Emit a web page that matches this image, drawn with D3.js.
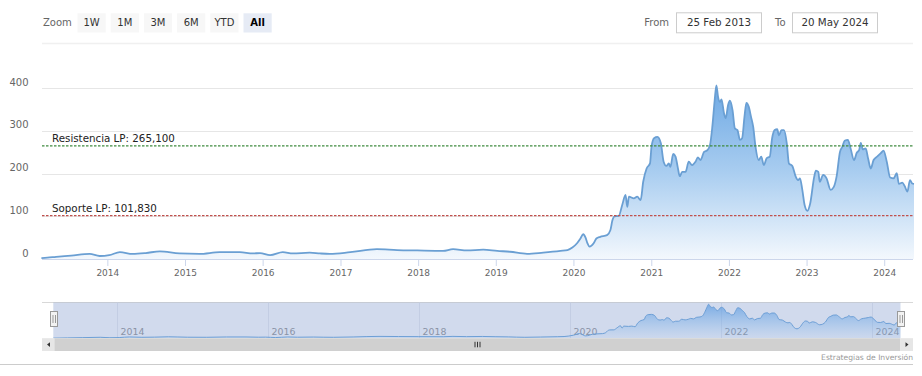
<!DOCTYPE html>
<html>
<head>
<meta charset="utf-8">
<script src="https://cdn.jsdelivr.net/npm/d3@7/dist/d3.min.js"></script>
<style>
  html, body { margin: 0; padding: 0; background: #fff; }
  svg { display: block; font-family: "DejaVu Sans", Verdana, sans-serif; }
</style>
</head>
<body>
<script>
// ---------- DATA ----------
const dates = [
  "2013-02-25","2013-03-25","2013-05-05","2013-07-15","2013-10-10","2013-11-26",
  "2014-01-10","2014-03-01","2014-04-30","2014-07-01","2014-09-05","2014-12-06",
  "2015-03-10","2015-06-13","2015-09-16","2015-11-16","2015-12-20",
  "2016-02-05","2016-04-05","2016-05-22","2016-08-09","2016-09-27","2016-11-12",
  "2017-02-16","2017-06-21","2017-09-24","2017-12-28",
  "2018-04-28","2018-06-14","2018-08-19","2018-11-03",
  "2019-01-08","2019-03-09","2019-05-28","2019-08-12","2019-11-01","2019-12-04","2019-12-27",
  "2020-01-18","2020-02-03","2020-02-16","2020-02-27","2020-03-06","2020-03-17","2020-04-05",
  "2020-04-18","2020-05-06","2020-06-07","2020-06-23","2020-07-02","2020-07-12","2020-08-01",
  "2020-08-17","2020-09-02","2020-09-10","2020-09-18","2020-10-11","2020-10-27","2020-11-12",
  "2020-11-24","2020-12-10","2020-12-26",
  "2021-01-02","2021-01-14","2021-01-30","2021-02-15","2021-02-28","2021-03-13","2021-03-24",
  "2021-04-01","2021-04-14","2021-04-25","2021-05-05","2021-05-15","2021-05-26","2021-06-11",
  "2021-06-26","2021-07-12","2021-07-28","2021-08-08","2021-08-21","2021-09-06","2021-09-22",
  "2021-10-04","2021-10-15","2021-10-26","2021-11-03","2021-11-11","2021-11-20","2021-11-27",
  "2021-12-09","2021-12-17","2021-12-28",
  "2022-01-06","2022-01-18","2022-01-29","2022-02-10","2022-02-22","2022-03-04","2022-03-15",
  "2022-03-24","2022-04-04","2022-04-15","2022-04-25","2022-05-06","2022-05-21","2022-06-02",
  "2022-06-14","2022-06-27","2022-07-12","2022-07-23","2022-08-04","2022-08-16","2022-08-24",
  "2022-09-05","2022-09-17","2022-09-30","2022-10-10","2022-10-26","2022-11-11","2022-11-22",
  "2022-12-01","2022-12-12","2022-12-23",
  "2023-01-05","2023-01-18","2023-02-06","2023-02-14","2023-02-25","2023-03-04","2023-03-20",
  "2023-04-05","2023-04-24","2023-05-09","2023-05-22","2023-06-07","2023-06-18","2023-06-29",
  "2023-07-14","2023-07-27","2023-08-12","2023-08-25","2023-09-05","2023-09-13","2023-09-22",
  "2023-10-06","2023-10-17","2023-10-30","2023-11-12","2023-12-01","2023-12-16","2023-12-29",
  "2024-01-13","2024-01-29","2024-02-14","2024-02-29","2024-03-10","2024-03-26","2024-04-06",
  "2024-04-19","2024-05-01","2024-05-12","2024-05-20"
];
const values = [
  2,3,5,8,12,7,
  9,16,12,14,18,13,
  12,16,16,13,14,
  9,16,13,15,13,12,
  16,23,21,20,
  19,23,20,22,
  19,17,12,15,19,21,27,
  37,48,58,50,38,29,37,
  48,52,56,68,90,100,101,
  126,150,122,146,142,146,138,
  181,212,224,
  263,283,286,271,228,218,224,
  216,246,240,216,194,204,204,
  228,220,228,238,232,251,255,
  267,310,372,407,380,368,374,
  341,330,361,
  371,349,306,302,279,283,333,
  366,357,333,310,263,232,240,
  220,236,240,283,302,304,290,
  302,302,271,224,218,193,185,
  189,162,126,
  113,130,193,207,204,181,197,
  189,162,169,193,251,263,277,
  279,259,232,249,255,272,257,
  259,236,212,232,241,248,254,
  228,191,189,201,176,179,171,
  158,185,177,176
];
const yTickValues = [0, 100, 200, 300, 400];
const xTickYears = [2014, 2015, 2016, 2017, 2018, 2019, 2020, 2021, 2022, 2023, 2024];
const navTickYears = [2014, 2016, 2018, 2020, 2022, 2024];
const plotLineValues = [265.1, 101.83];
const plotLineLabels = ["Resistencia LP: 265,100", "Soporte LP: 101,830"];
const plotLineColors = ["#3f8a3f", "#c0504d"];
const zoomButtons = ["1W", "1M", "3M", "6M", "YTD", "All"];
const selectedButton = "All";
const fromText = "25 Feb 2013";
const toText = "20 May 2024";
const creditText = "Estrategias de Inversión";

// ---------- SETUP ----------
const W = 922, H = 376;
const parse = d3.timeParse("%Y-%m-%d");
const data = dates.map((d, i) => ({ date: parse(d), value: values[i] }));
const startDate = parse("2013-02-25"), endDate = parse("2024-05-20");

const svg = d3.select("body").append("svg").attr("width", W).attr("height", H);
const defs = svg.append("defs");

const plotLeft = 41.4, plotRight = 914, plotTop = 60, plotBottom = 259;
const x = d3.scaleTime().domain([startDate, endDate]).range([plotLeft, plotRight]);
const y = d3.scaleLinear().domain([0, 400]).range([plotBottom, 88.3]);

// ---------- RANGE SELECTOR ----------
svg.append("text").attr("x", 43).attr("y", 26).attr("font-size", 10).attr("fill", "#666").text("Zoom");
const btnG = svg.append("g");
zoomButtons.forEach((b, i) => {
  const bx = 77.5 + i * 33.2;
  const sel = b === selectedButton;
  btnG.append("rect").attr("x", bx).attr("y", 13.3).attr("width", 28.2).attr("height", 19.2)
    .attr("fill", sel ? "#e6ebf5" : "#f7f7f7");
  btnG.append("text").attr("x", bx + 14.1).attr("y", 26.2).attr("text-anchor", "middle")
    .attr("font-size", 10).attr("font-weight", sel ? "bold" : "normal")
    .attr("fill", sel ? "#000" : "#333").text(b);
});
svg.append("text").attr("x", 669).attr("y", 26).attr("text-anchor", "end").attr("font-size", 10).attr("fill", "#666").text("From");
svg.append("rect").attr("x", 676.5).attr("y", 12.8).attr("width", 85).attr("height", 20).attr("fill", "#fff").attr("stroke", "#cccccc");
svg.append("text").attr("x", 719).attr("y", 26.3).attr("text-anchor", "middle").attr("font-size", 10.3).attr("fill", "#333").text(fromText);
svg.append("text").attr("x", 785.5).attr("y", 26).attr("text-anchor", "end").attr("font-size", 10).attr("fill", "#666").text("To");
svg.append("rect").attr("x", 792.5).attr("y", 12.8).attr("width", 85).attr("height", 20).attr("fill", "#fff").attr("stroke", "#cccccc");
svg.append("text").attr("x", 835).attr("y", 26.3).attr("text-anchor", "middle").attr("font-size", 10.3).attr("fill", "#333").text(toText);
svg.append("line").attr("x1", 42).attr("x2", 913).attr("y1", 43.5).attr("y2", 43.5).attr("stroke", "#f0f0f0").attr("stroke-width", 1.5);

// ---------- GRID + Y AXIS ----------
const yAxis = d3.axisLeft(y).tickValues(yTickValues).tickSize(0).tickPadding(0);
const gy = svg.append("g").attr("transform", "translate(0,0)");
yTickValues.forEach(v => {
  if (v !== 0) {
    gy.append("line").attr("x1", 42).attr("x2", 913).attr("y1", Math.round(y(v)) + 0.5).attr("y2", Math.round(y(v)) + 0.5)
      .attr("stroke", "#e6e6e6");
  }
});
const yLab = svg.append("g").attr("transform", "translate(28.5,-3)").call(yAxis);
yLab.select(".domain").remove();
yLab.selectAll("text").attr("font-size", 10).attr("fill", "#666").attr("font-family", "DejaVu Sans").attr("dy", "0");

// ---------- AREA SERIES ----------
const grad = defs.append("linearGradient").attr("id", "areaGrad")
  .attr("gradientUnits", "userSpaceOnUse").attr("x1", 0).attr("x2", 0).attr("y1", y(407)).attr("y2", plotBottom);
grad.append("stop").attr("offset", 0).attr("stop-color", "#6ea9e4");
grad.append("stop").attr("offset", 0.5).attr("stop-color", "#a9cdf0");
grad.append("stop").attr("offset", 1).attr("stop-color", "#f3f8fd");

const area = d3.area().x(d => x(d.date)).y0(plotBottom).y1(d => y(d.value)).curve(d3.curveMonotoneX);
const line = d3.line().x(d => x(d.date)).y(d => y(d.value)).curve(d3.curveMonotoneX);
svg.append("path").datum(data).attr("d", area).attr("fill", "url(#areaGrad)");
svg.append("path").datum(data).attr("d", line).attr("fill", "none").attr("stroke", "#6a9fd3").attr("stroke-width", 1.8).attr("stroke-linejoin", "round");

// ---------- PLOT LINES ----------
plotLineValues.forEach((v, i) => {
  const py = y(v);
  svg.append("line").attr("x1", 42).attr("x2", 913).attr("y1", py).attr("y2", py)
    .attr("stroke", plotLineColors[i]).attr("stroke-width", 1.2).attr("stroke-dasharray", "2.5,1.5");
  svg.append("text").attr("x", 52).attr("y", py - 3.5).attr("font-size", 10.3).attr("fill", "#222").text(plotLineLabels[i]);
});

// ---------- X AXIS ----------
const xAxis = d3.axisBottom(x)
  .tickValues(xTickYears.map(yv => new Date(yv, 0, 1)))
  .tickFormat(d3.timeFormat("%Y")).tickSize(7).tickPadding(4);
const gx = svg.append("g").attr("transform", `translate(0,${plotBottom})`).call(xAxis);
gx.select(".domain").attr("stroke", "#ccd6eb").attr("d", `M42,0.5H913`);
gx.selectAll(".tick line").attr("stroke", "#ccd6eb");
gx.selectAll("text").attr("font-size", 9).attr("fill", "#666").attr("font-family", "DejaVu Sans");

// ---------- NAVIGATOR ----------
const navLeft = 53.3, navRight = 900.5, navTop = 302.5, navBottom = 338.3;
const nx = d3.scaleTime().domain([startDate, endDate]).range([navLeft, navRight]);
const ny = d3.scaleLinear().domain([0, 410]).range([navBottom, 304]);

// outline top line
svg.append("line").attr("x1", 42).attr("x2", 913).attr("y1", navTop).attr("y2", navTop).attr("stroke", "#d8d8d8");
// mask for selected range
svg.append("rect").attr("x", navLeft).attr("y", navTop).attr("width", navRight - navLeft).attr("height", navBottom - navTop)
  .attr("fill", "rgba(102,133,194,0.3)");
// navigator grid lines + labels
navTickYears.forEach(yv => {
  const gxp = Math.round(nx(new Date(yv, 0, 1))) + 0.5;
  svg.append("line").attr("x1", gxp).attr("x2", gxp).attr("y1", navTop).attr("y2", navBottom).attr("stroke", "#c3cde3");
  svg.append("text").attr("x", gxp + 3).attr("y", 334.5).attr("font-size", 9.4).attr("fill", "#8a93a6").text(yv);
});
const navGrad = defs.append("linearGradient").attr("id", "navGrad")
  .attr("gradientUnits", "userSpaceOnUse").attr("x1", 0).attr("x2", 0).attr("y1", 304).attr("y2", navBottom);
navGrad.append("stop").attr("offset", 0).attr("stop-color", "#5d9be0").attr("stop-opacity", 0.75);
navGrad.append("stop").attr("offset", 1).attr("stop-color", "#7cb5ec").attr("stop-opacity", 0.05);
const navArea = d3.area().x(d => nx(d.date)).y0(navBottom).y1(d => ny(d.value)).curve(d3.curveMonotoneX);
const navLine = d3.line().x(d => nx(d.date)).y(d => ny(d.value)).curve(d3.curveMonotoneX);
svg.append("path").datum(data).attr("d", navArea).attr("fill", "url(#navGrad)");
svg.append("path").datum(data).attr("d", navLine).attr("fill", "none").attr("stroke", "#6d9fd6").attr("stroke-width", 1);

// handles
[navLeft + 1, navRight].forEach(hx => {
  const hg = svg.append("g").attr("transform", `translate(${Math.round(hx)},${319})`);
  hg.append("rect").attr("x", -3.5).attr("y", -7.5).attr("width", 7).attr("height", 15)
    .attr("fill", "#f2f2f2").attr("stroke", "#999").attr("stroke-width", 1);
  hg.append("line").attr("x1", -1).attr("x2", -1).attr("y1", -4).attr("y2", 4).attr("stroke", "#999");
  hg.append("line").attr("x1", 1.5).attr("x2", 1.5).attr("y1", -4).attr("y2", 4).attr("stroke", "#999");
});

// ---------- SCROLLBAR ----------
const sbTop = 338.3, sbH = 12.7;
svg.append("rect").attr("x", 42).attr("y", sbTop).attr("width", 871).attr("height", sbH).attr("fill", "#f2f2f2");
svg.append("rect").attr("x", 54.3).attr("y", sbTop).attr("width", 846).attr("height", sbH).attr("fill", "#d0d0d0");
svg.append("rect").attr("x", 42).attr("y", sbTop).attr("width", 12.3).attr("height", sbH).attr("fill", "#e6e6e6");
svg.append("rect").attr("x", 900.5).attr("y", sbTop).attr("width", 12.5).attr("height", sbH).attr("fill", "#e6e6e6");
svg.append("path").attr("d", `M50,${sbTop + 4}L47,${sbTop + 6.3}L50,${sbTop + 8.6}Z`).attr("fill", "#333");
svg.append("path").attr("d", `M905.5,${sbTop + 4}L908.5,${sbTop + 6.3}L905.5,${sbTop + 8.6}Z`).attr("fill", "#333");
[-2.5, 0, 2.5].forEach(o => {
  svg.append("line").attr("x1", 477.5 + o).attr("x2", 477.5 + o).attr("y1", sbTop + 3.5).attr("y2", sbTop + 9)
    .attr("stroke", "#333").attr("stroke-width", 1);
});

// ---------- CREDITS + BORDER ----------
svg.append("text").attr("x", 913).attr("y", 360).attr("text-anchor", "end").attr("font-size", 7.6).attr("fill", "#999").text(creditText);
svg.append("line").attr("x1", 0).attr("x2", 913).attr("y1", 364.5).attr("y2", 364.5).attr("stroke", "#cccccc");
</script>
</body>
</html>
